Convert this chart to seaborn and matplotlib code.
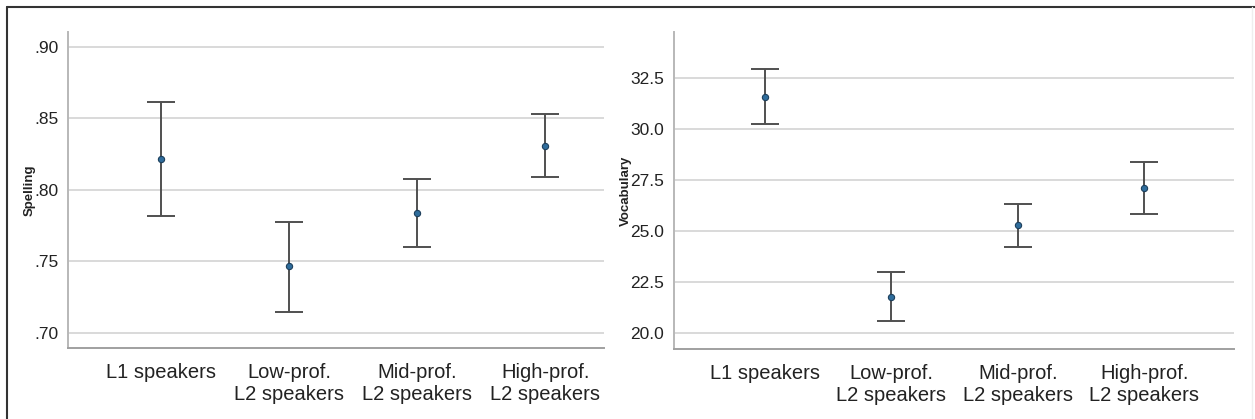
import pandas as pd
import matplotlib.pyplot as plt
import seaborn as sns

# group labels and the estimated means / 95% CI bounds
groups = ["L1 speakers", "Low-prof.\nL2 speakers",
          "Mid-prof.\nL2 speakers", "High-prof.\nL2 speakers"]

spelling_mean = [0.822, 0.7465, 0.784, 0.831]
spelling_lo = [0.782, 0.715, 0.760, 0.809]
spelling_hi = [0.8615, 0.7775, 0.808, 0.853]

vocab_mean = [31.57, 21.78, 25.27, 27.10]
vocab_lo = [30.23, 20.60, 24.22, 25.83]
vocab_hi = [32.94, 22.99, 26.32, 28.38]

spelling_ticks = [0.70, 0.75, 0.80, 0.85, 0.90]
spelling_ticklabels = [".70", ".75", ".80", ".85", ".90"]
vocab_ticks = [20.0, 22.5, 25.0, 27.5, 30.0, 32.5]

sns.set_theme(style="white")
plt.rcParams["font.family"] = ["Liberation Sans", "DejaVu Sans"]

fig = plt.figure(figsize=(12.55, 4.19), dpi=100)


def draw_panel(ax, means, lo, hi, label, ticks, ticklabels, ylim, xlim,
               label_x):
    df = pd.DataFrame({"group": groups, "value": means})
    ax.grid(axis="y", color="#d9d9d9", linewidth=1.4)
    ax.set_axisbelow(True)
    # CI bars drawn at the categorical positions seaborn uses (0..n-1)
    pos = list(range(len(groups)))
    yerr = [[m - l for m, l in zip(means, lo)],
            [h - m for m, h in zip(means, hi)]]
    ax.errorbar(pos, means, yerr=yerr, fmt="none", ecolor="#505050",
                elinewidth=1.4, capsize=10, capthick=1.4, zorder=2)
    sns.pointplot(data=df, x="group", y="value", linestyle="none",
                  errorbar=None, marker="o", markersize=4.5,
                  color="#2f6d9c", markeredgecolor="#1d3f5c",
                  markeredgewidth=0.8, ax=ax, zorder=3)
    ax.set_ylim(*ylim)
    ax.set_xlim(*xlim)
    ax.set_yticks(ticks)
    ax.set_yticklabels(ticklabels, fontsize=12.5, color="#222222")
    ax.tick_params(axis="y", length=0, pad=7)
    ax.tick_params(axis="x", length=0, pad=11, labelsize=14.5,
                   colors="#222222")
    ax.set_xlabel("")
    ax.set_ylabel(label, fontsize=9.5, fontweight="bold", color="#222222")
    ax.yaxis.set_label_coords(label_x, 0.5)
    for s in ["top", "right"]:
        ax.spines[s].set_visible(False)
    ax.spines["left"].set_color("#b8b8b8")
    ax.spines["bottom"].set_color("#a0a0a0")
    for s in ["left", "bottom"]:
        ax.spines[s].set_linewidth(1.4)


ax1 = fig.add_axes([0.0542, 0.1695, 0.4271, 0.7542])
draw_panel(ax1, spelling_mean, spelling_lo, spelling_hi, "Spelling",
           spelling_ticks, spelling_ticklabels, (0.6895, 0.9105),
           (-0.727, 3.46), -0.060)

ax2 = fig.add_axes([0.5371, 0.1671, 0.4462, 0.7566])
draw_panel(ax2, vocab_mean, vocab_lo, vocab_hi, "Vocabulary",
           vocab_ticks, [f"{t:.1f}" for t in vocab_ticks], (19.22, 34.75),
           (-0.72, 3.71), -0.075)

# outer frame of the original figure (dark on top and left)
fig.add_artist(plt.Line2D([7 / 1255, 1], [1 - 7 / 419, 1 - 7 / 419],
                          color="#333333", linewidth=1.5))
fig.add_artist(plt.Line2D([7 / 1255, 7 / 1255], [0, 1 - 7 / 419],
                          color="#333333", linewidth=1.5))
fig.add_artist(plt.Line2D([1252 / 1255, 1252 / 1255], [0, 1 - 7 / 419],
                          color="#eeeeee", linewidth=1))

fig.savefig("out.png", dpi=100)
